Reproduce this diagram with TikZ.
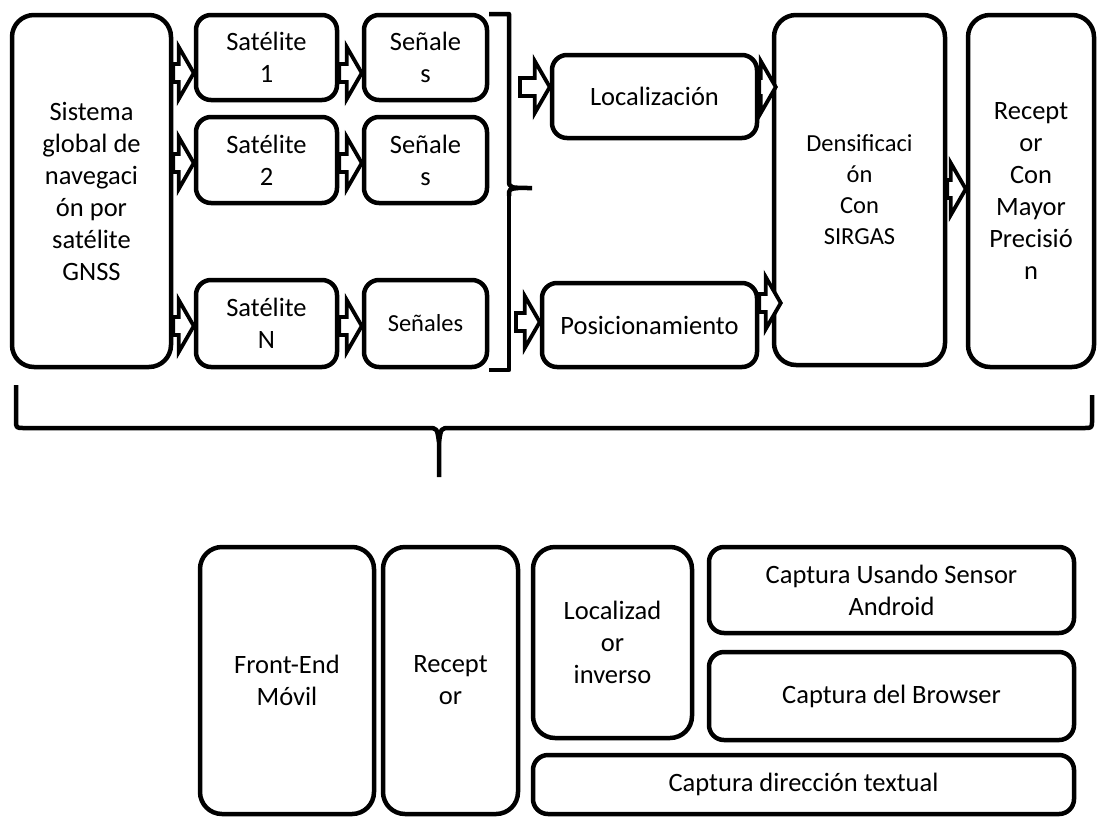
\documentclass[tikz,border=0pt]{standalone}
\usepackage{fontspec}
\setmainfont{Carlito}
\usetikzlibrary{calc}
\begin{document}
\begin{tikzpicture}[x=1pt,y=-1pt,
  box/.style={draw, line width=4.5pt, rounded corners=15pt, align=center, inner sep=0pt,
    font=\fontsize{26.5}{32}\selectfont},
  bigbox/.style={box, rounded corners=22pt},
  small/.style={font=\fontsize{24.5}{31}\selectfont},
  brk/.style={draw, line width=4.5pt, line join=round},
  blockarr/.style={draw, line width=3.8pt, fill=white, line join=miter,
    to path={let \p1=(\tikztostart), \p2=(\tikztotarget) in
      (\x1,\y1+9pt) -- (\x2-15pt,\y1+9pt) -- (\x2-15pt,\y1+26pt) -- (\x2,\y1)
      -- (\x2-15pt,\y1-26pt) -- (\x2-15pt,\y1-9pt) -- (\x1,\y1-9pt) -- cycle}}
]
\useasboundingbox (0,0) rectangle (1097,817);

% top row
\node[bigbox, minimum width=159, minimum height=352] (gnss) at (91.5,191)
  {Sistema\\global de\\navegaci\\ón por\\satélite\\GNSS};
\node[box, minimum width=141, minimum height=85] (sat1) at (266.5,57.5) {Satélite\\1};
\node[box, minimum width=141, minimum height=86] (sat2) at (266.5,160) {Satélite\\2};
\node[box, minimum width=141, minimum height=87] (satn) at (266.5,323.5) {Satélite\\N};
\node[box, minimum width=123, minimum height=85] (sen1) at (425.5,57.5) {Señale\\s};
\node[box, minimum width=123, minimum height=86] (sen2) at (425.5,160) {Señale\\s};
\node[box, small, minimum width=123, minimum height=87] (senn) at (425.5,323.5) {Señales};
\node[box, minimum width=205, minimum height=83] (loc) at (654.5,96.5) {Localización};
\node[box, minimum width=215, minimum height=84] (pos) at (649.5,325) {Posicionamiento};
\node[bigbox, small, minimum width=171, minimum height=350] (dens) at (859.5,190)
  {Densificaci\\ón\\Con\\SIRGAS};
\node[bigbox, minimum width=126, minimum height=352] (rec) at (1031,191)
  {Recept\\or\\Con\\Mayor\\Precisió\\n};

% arrow levels
\coordinate (r1) at (0,73);
\coordinate (r2) at (0,163);
\coordinate (r3) at (0,326);
\coordinate (rl) at (0,87);
\coordinate (rp) at (0,322);
\coordinate (rpd) at (0,303);
\coordinate (rd) at (0,189);
\coordinate (locstart) at (520,87);
\coordinate (posstart) at (516,322);

\draw[blockarr] (gnss.east |- r1) to (sat1.west |- r1);
\draw[blockarr] (gnss.east |- r2) to (sat2.west |- r2);
\draw[blockarr] (gnss.east |- r3) to (satn.west |- r3);
\draw[blockarr] (sat1.east |- r1) to (sen1.west |- r1);
\draw[blockarr] (sat2.east |- r2) to (sen2.west |- r2);
\draw[blockarr] (satn.east |- r3) to (senn.west |- r3);
\draw[blockarr] (locstart) to (loc.west |- rl);
\draw[blockarr] (posstart) to (pos.west |- rp);
\draw[blockarr] (loc.east |- rl) to ($(dens.west |- rl)+(4,0)$);
\draw[blockarr] (pos.east |- rpd) to ($(dens.west |- rpd)+(9,0)$);
\draw[blockarr] (dens.east |- rd) to (rec.west |- rd);

% right bracket of signals
\path[brk] (489,14) -- (509,14) -- (509,180) .. controls (509,188) .. (532,188);
\path[brk] (509,196) .. controls (509,189) .. (518,188);
\path[brk] (509,196) -- (509,370) -- (489,370);

% bottom brace
\path[brk] (16,385) -- (16,420) .. controls (16,428) .. (24,428) -- (428,428)
  .. controls (437,428) .. (439,442) -- (439,477);
\path[brk] (439,442) .. controls (441,428) .. (450,428) -- (1084,428)
  .. controls (1092,428) .. (1092,420) -- (1092,395);

% bottom row
\node[bigbox, minimum width=174, minimum height=267] (fe) at (287,680.5) {Front-End\\Móvil};
\node[bigbox, minimum width=135, minimum height=267] (rec2) at (450.5,680.5) {Recept\\or};
\node[bigbox, minimum width=159, minimum height=191] (linv) at (612.5,642.5)
  {Localizad\\or\\inverso};
\node[box, minimum width=365, minimum height=86] (sens) at (891.5,590)
  {Captura Usando Sensor\\Android};
\node[box, minimum width=365, minimum height=88] (brow) at (891.5,696)
  {Captura del Browser};
\node[box, minimum width=541, minimum height=59] (text) at (803.5,784.5)
  {Captura dirección textual};
\end{tikzpicture}
\end{document}
